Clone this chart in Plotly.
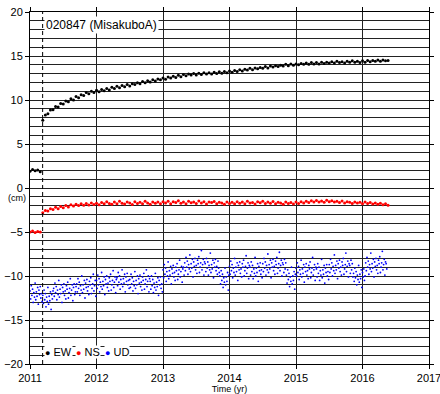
import numpy as np
import plotly.graph_objects as go

# ---------------- data ----------------
# EW and NS: one value every two weeks starting 2011.0
EW = [1.9, 2.1, 1.95, 2.05, 1.85,
      7.7, 8.3, 8.45, 8.85, 8.9, 9.25, 9.2, 9.6, 9.55, 9.9, 9.8, 10.15, 10.0, 10.4, 10.25, 10.6, 10.5, 10.85, 10.7, 11.0, 10.85, 11.1,
      10.95, 11.2, 11.05, 11.3, 11.15, 11.45, 11.3, 11.55, 11.4, 11.65, 11.5, 11.75, 11.6, 11.85, 11.75, 11.95, 11.85, 12.1, 11.95, 12.2, 12.05, 12.3, 12.15, 12.4, 12.3, 12.5,
      12.35, 12.6, 12.5, 12.7, 12.55, 12.8, 12.65, 12.9, 12.75, 12.95, 12.85, 13.0, 12.85, 13.05, 12.9, 13.1, 12.95, 13.1, 12.95, 13.15, 13.0, 13.2, 13.05, 13.25, 13.1, 13.3,
      13.15, 13.35, 13.25, 13.45, 13.3, 13.5, 13.4, 13.6, 13.45, 13.65, 13.55, 13.7, 13.6, 13.8, 13.65, 13.85, 13.75, 13.9, 13.8, 13.95, 13.85, 14.05, 13.9, 14.1, 13.95, 14.1,
      14.0, 14.15, 14.05, 14.2, 14.05, 14.25, 14.1, 14.25, 14.1, 14.3, 14.15, 14.3, 14.2, 14.35, 14.2, 14.4, 14.25, 14.35, 14.2, 14.4, 14.3, 14.45, 14.3, 14.4, 14.25, 14.45,
      14.3, 14.5, 14.35, 14.5, 14.4, 14.55, 14.4, 14.55, 14.45, 14.5]

NS = [-5.0, -4.9, -5.05, -4.95, -5.0,
      -2.8, -2.55, -2.6, -2.35, -2.45, -2.2, -2.35, -2.1, -2.25, -2.0, -2.15, -1.9, -2.05, -1.85, -2.0, -1.8, -1.95, -1.75, -1.92, -1.7, -1.88, -1.72,
      -1.9, -1.65, -1.8, -1.55, -1.75, -1.85, -1.6, -1.78, -1.5, -1.72, -1.82, -1.58, -1.7, -1.88, -1.55, -1.75, -1.62, -1.8, -1.5, -1.7, -1.85, -1.58, -1.72, -1.6, -1.8, -1.55,
      -1.7, -1.5, -1.78, -1.55, -1.65, -1.45, -1.72, -1.58, -1.8, -1.5, -1.68, -1.6, -1.75, -1.48, -1.7, -1.55, -1.82, -1.6, -1.66, -1.52, -1.78, -1.62, -1.7, -1.85, -1.6, -1.75,
      -1.62, -1.8, -1.55, -1.72, -1.6, -1.78, -1.5, -1.7, -1.65, -1.82, -1.55, -1.68, -1.5, -1.75, -1.6, -1.72, -1.52, -1.8, -1.62, -1.7, -1.85, -1.58, -1.75, -1.65, -1.82, -1.6,
      -1.75, -1.55, -1.7, -1.5, -1.65, -1.45, -1.6, -1.42, -1.58, -1.48, -1.62, -1.4, -1.55, -1.45, -1.6, -1.5, -1.65, -1.48, -1.7, -1.55, -1.62, -1.75, -1.58, -1.7, -1.62, -1.78,
      -1.6, -1.75, -1.65, -1.82, -1.7, -1.85, -1.72, -1.9, -1.8, -1.95]

# UD: two values per week starting 2011.0
UD = [-11.7, -12.6, -11.1, -12.2, -11.5, -13.0, -11.9, -12.4, -10.8, -12.7, -11.8, -12.3, -11.3, -13.2, -11.6, -12.1, -11.2, -12.5, -12.0, -12.9,
      -12.2, -13.1, -11.6, -12.7, -12.0, -13.5, -12.4, -12.9, -11.3, -13.2, -12.3, -12.8, -11.8, -13.8, -12.1, -12.6, -11.7,
      -11.4, -12.3, -10.8, -11.9, -11.2, -12.7, -11.6, -12.1, -10.5, -12.4, -11.5, -12.0, -11.0, -13.0, -11.3, -11.8, -10.9, -12.2,
      -11.7, -12.6, -11.1, -11.5, -10.7, -12.5, -11.9, -11.4, -10.3, -12.2, -11.6, -11.0, -12.8, -11.3, -10.9, -12.1, -11.8, -11.2,
      -10.9, -11.8, -10.3, -11.4, -10.7, -12.2, -11.1, -11.6, -10.0, -11.9, -11.0, -11.5, -10.5, -12.5, -10.8, -11.3,
      -10.4, -11.7, -11.2, -12.1, -10.6, -11.0, -10.2, -12.0, -11.4, -10.9, -9.8, -11.7, -11.1, -10.5, -12.3,
      -10.5, -11.4, -9.9, -11.0, -10.3, -11.8, -10.7, -11.2, -9.6, -11.5, -10.6, -11.1, -10.1, -12.1, -10.4, -10.9,
      -10.0, -11.3, -10.8, -11.7, -10.2, -10.6, -9.8, -11.6, -11.0, -10.5, -9.4, -11.3, -10.7, -10.1, -11.9, -10.4,
      -10.2, -11.1, -9.6, -10.7, -10.0, -11.5, -10.4, -10.9, -9.3, -11.2, -10.3, -10.8, -9.8, -11.8, -10.1, -10.6,
      -9.7, -11.0, -10.5, -11.4,
      -10.4, -11.3, -9.8, -10.9, -10.2, -11.7, -10.6, -11.1, -9.5, -11.4, -10.5, -11.0, -10.0, -12.0, -10.3, -10.8,
      -9.9, -11.2, -10.7, -11.6, -10.1, -10.5, -9.7, -11.5, -10.9, -10.4, -9.3, -11.2, -10.6, -10.0, -11.8, -10.3,
      -10.6, -11.5, -10.0, -11.1, -10.4, -11.9, -10.8, -11.3, -9.7, -11.6, -10.7, -11.2, -10.2, -12.2, -10.5, -11.0,
      -10.1, -11.4, -10.9, -11.8,
      -9.3, -10.2, -8.7, -9.8, -9.1, -10.6, -9.5, -10.0, -8.4, -10.3, -9.4, -9.9, -8.9, -10.9, -9.2, -9.7,
      -8.8, -10.1, -9.6, -10.5, -9.0, -9.4, -8.6, -10.4, -9.8, -9.3, -8.2, -10.1, -9.5, -8.9, -10.7, -9.2,
      -9.0, -9.9,
      -8.5, -9.4, -7.9, -9.0, -8.3, -9.8, -8.7, -9.2, -7.6, -9.5, -8.6, -9.1, -8.1, -10.1, -8.4, -8.9,
      -8.0, -9.3, -8.8, -9.7, -8.2, -8.6, -7.8, -9.6, -9.0, -8.5, -7.1, -9.3, -8.7, -8.1, -9.9, -8.4,
      -8.6, -9.5, -8.0, -9.1, -8.4, -9.9, -8.8, -9.3, -7.4, -9.6, -8.7, -9.2, -8.2, -10.2, -8.5, -9.0,
      -8.1, -9.4, -8.9, -9.8, -8.3, -9.1, -9.6,
      -10.0, -10.9, -9.4, -10.5, -9.8, -11.3, -10.2, -10.7, -9.1, -11.0, -10.1, -10.6, -9.6, -11.6, -9.9,
      -8.9, -9.8, -8.3, -9.4, -8.7, -10.2, -9.1, -9.6, -8.0, -9.9, -9.0, -9.5, -8.5, -10.5, -8.8, -9.3,
      -8.4, -9.7, -9.2, -10.1, -8.6, -9.0, -8.2, -10.0, -9.4, -8.9, -7.7, -9.7, -9.1, -8.5, -10.3, -8.8,
      -9.0, -9.9, -8.4, -9.5, -8.8, -10.3, -9.2, -9.7, -7.9, -10.0, -9.1, -9.6, -8.6, -10.6, -8.9, -9.4,
      -8.5, -9.8, -9.3, -10.2,
      -8.6, -9.5, -8.0, -9.1, -8.4, -9.9, -8.8, -9.3, -7.5, -9.6, -8.7, -9.2, -8.2, -10.2, -8.5, -9.0,
      -8.1, -9.4, -8.9, -9.8, -8.3, -8.7, -7.9, -9.7, -9.1, -8.6, -7.3, -9.4, -8.8, -8.2, -10.0, -8.5,
      -8.7, -9.6, -8.1, -9.2, -8.5,
      -9.9, -10.8, -9.3, -10.4, -9.7, -11.2, -10.1, -10.6, -9.0, -10.9, -10.0, -10.5, -9.5, -11.5, -9.8,
      -9.1, -10.0, -8.5, -9.6, -8.9, -10.4, -9.3, -9.8, -8.2, -10.1, -9.2, -9.7, -8.7, -10.7, -9.0, -9.5,
      -8.6, -9.9, -9.4, -10.3, -8.8, -9.2, -8.4, -10.2, -9.6, -9.1, -7.9, -9.9, -9.3, -8.7, -10.5, -9.0,
      -9.2, -10.1, -8.6, -9.7, -9.0, -10.5, -9.4, -9.9, -8.1, -10.2, -9.3, -9.8, -8.8, -10.8, -9.1, -9.6,
      -8.7, -10.0, -9.5, -10.4,
      -8.7, -9.6, -8.1, -9.2, -8.5, -10.0, -8.9, -9.4, -7.6, -9.7, -8.8, -9.3, -8.3, -10.3, -8.6, -9.1,
      -8.2, -9.5, -9.0, -9.9, -8.4, -8.8, -8.0, -9.8, -9.2, -8.7, -7.4, -9.5, -8.9, -8.3, -10.1, -8.6,
      -8.8, -9.7, -8.2, -9.3, -8.6, -10.1,
      -9.7, -10.6, -9.1, -10.2, -9.5, -11.0, -9.9, -10.4, -8.8, -10.7, -9.8, -10.3, -9.3, -11.3, -9.6, -10.1, -9.2, -10.5, -10.0,
      -8.5, -9.4, -7.9, -9.0, -8.3, -9.8, -8.7, -9.2, -7.4, -9.5, -8.6, -9.1, -8.1, -10.1, -8.4, -8.9,
      -8.0, -9.3, -8.8, -9.7, -8.2, -8.6, -7.8, -9.6, -9.0, -8.5, -7.2, -9.3, -8.7, -8.1, -9.9, -8.4,
      -8.6, -9.2]

START_YEAR = 2011.0
T_EN = START_YEAR + np.arange(len(EW)) / 26.0
T_UD = START_YEAR + np.arange(len(UD)) / 104.0

QUAKE_T = 2011.19
STATION = "020847 (MisakuboA)"
X_TICKS = [2011, 2012, 2013, 2014, 2015, 2016, 2017]
Y_TICKS = [20, 15, 10, 5, 0, -5, -10, -15, -20]
SERIES = [("EW", "#000000"), ("NS", "#ff0000"), ("UD", "#0000ff")]

FONT = "Liberation Sans, Arial, Helvetica, sans-serif"

fig = go.Figure()
for (name, col), tt, vals, sz in zip(SERIES, [T_EN, T_EN, T_UD], [EW, NS, UD], [3.0, 3.0, 1.8]):
    fig.add_trace(go.Scatter(x=tt, y=vals, mode="markers", name=name,
                             marker=dict(color=col, size=sz, line=dict(width=0)),
                             showlegend=False, hoverinfo="skip"))

fig.add_shape(type="line", x0=QUAKE_T, x1=QUAKE_T, y0=-20, y1=20, xref="x", yref="y",
              line=dict(color="black", width=1, dash="4px,3px"))

# station label
fig.add_annotation(x=2011.21, y=18.5, xref="x", yref="y", xanchor="left", yanchor="middle",
                   text=STATION, showarrow=False, bgcolor="white",
                   font=dict(family=FONT, size=12, color="black"), borderpad=1)

# legend row
leg_x = [2011.215, 2011.67, 2012.12]
for (name, col), lx in zip(SERIES, leg_x):
    fig.add_annotation(x=lx, y=-18.64, xref="x", yref="y", xanchor="left", yanchor="middle",
                       text=f"<span style='color:{col};font-size:9px'>●</span> {name}",
                       showarrow=False, bgcolor="white", borderpad=0,
                       font=dict(family=FONT, size=11, color="black"))

fig.add_annotation(x=-0.033, y=-1.15, xref="paper", yref="y", text="(cm)", showarrow=False,
                   xanchor="center", yanchor="middle", font=dict(family=FONT, size=9, color="black"))

fig.update_layout(
    width=440, height=394,
    margin=dict(l=30, r=11, t=12, b=30),
    paper_bgcolor="white", plot_bgcolor="white",
    font=dict(family=FONT, size=11, color="black"),
    showlegend=False,
    xaxis=dict(range=[2011, 2017], tickvals=X_TICKS, ticktext=[str(v) for v in X_TICKS],
               automargin=False, ticklabeloverflow="allow",
               showgrid=True, gridcolor="#222222", gridwidth=1.2, zeroline=False,
               showline=True, linecolor="black", linewidth=1, mirror="ticks",
               ticks="outside", ticklen=4, tickcolor="black",
               title=dict(text="Time (yr)", font=dict(size=9, family=FONT), standoff=1),
               tickfont=dict(size=11)),
    yaxis=dict(range=[-20, 20], tickvals=Y_TICKS, automargin=False,
               ticktext=[str(v).replace("-", "\u2212") for v in Y_TICKS],
               showgrid=True, gridcolor="#222222", gridwidth=1, zeroline=False,
               showline=True, linecolor="black", linewidth=1, mirror="ticks",
               ticks="outside", ticklen=4, tickcolor="black",
               minor=dict(dtick=1, showgrid=True, gridcolor="#222222", gridwidth=1, ticks=""),
               tickfont=dict(size=11)),
)

fig.write_html("out.html", config={"displayModeBar": False},
               post_script="document.body.style.margin='0';document.body.style.overflow='hidden';")
